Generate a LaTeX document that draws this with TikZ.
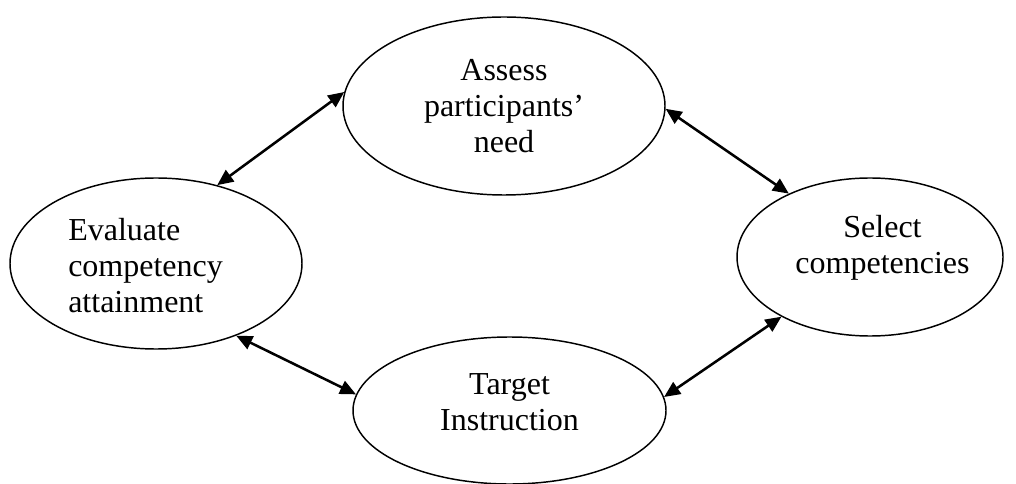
\documentclass[tikz,border=0pt]{standalone}
\usepackage{fontspec}
\setmainfont{Liberation Serif}
\usepackage{tikz}
\usetikzlibrary{positioning}
\usetikzlibrary{shapes.geometric, arrows.meta}
\tikzstyle{stage} = [draw, ellipse, line width=1.1pt, inner sep=0pt]
\tikzstyle{caption} = [inner sep=0pt, align=center, font=\fontsize{24}{27}\selectfont]
\tikzstyle{link} = [draw, line width=1.9pt, {Triangle[length=12pt,width=10.5pt]}-{Triangle[length=12pt,width=10.5pt]}]

\begin{document}
\begin{tikzpicture}[x=0.75pt, y=-0.75pt]
			\useasboundingbox (0,0) rectangle (1016,484);
			\node[stage, minimum width=241.5pt, minimum height=133.5pt] at (504,106) (assess) {};
			\node[stage, minimum width=219pt, minimum height=128.25pt] at (156,263.5) (eval) {};
			\node[stage, minimum width=199.5pt, minimum height=118.5pt] at (870,257) (select) {};
			\node[stage, minimum width=234.75pt, minimum height=110.25pt] at (509.5,410.5) (target) {};
			
			\node[caption] at (assess.center) (assesstxt) {Assess\\participants’\\need};
			\node[caption, align=left, anchor=west] at ([shift={(-88,2)}]eval.center) (evaltxt) {Evaluate\\competency\\attainment};
			\node[caption] at ([shift={(12.5,-9)}]select.center) (selecttxt) {Select\\competencies};
			\node[caption] at ([shift={(0,-8)}]target.center) (targettxt) {Target\\Instruction};
			
			\path [link] (assess.175) -- (eval.52);
			\path [link] (assess.-1) -- (select.142);
			\path [link] (eval.-42) -- (target.174.6);
			\path [link] (select.214.8) -- (target.5.8);
			
		\end{tikzpicture}
\end{document}
